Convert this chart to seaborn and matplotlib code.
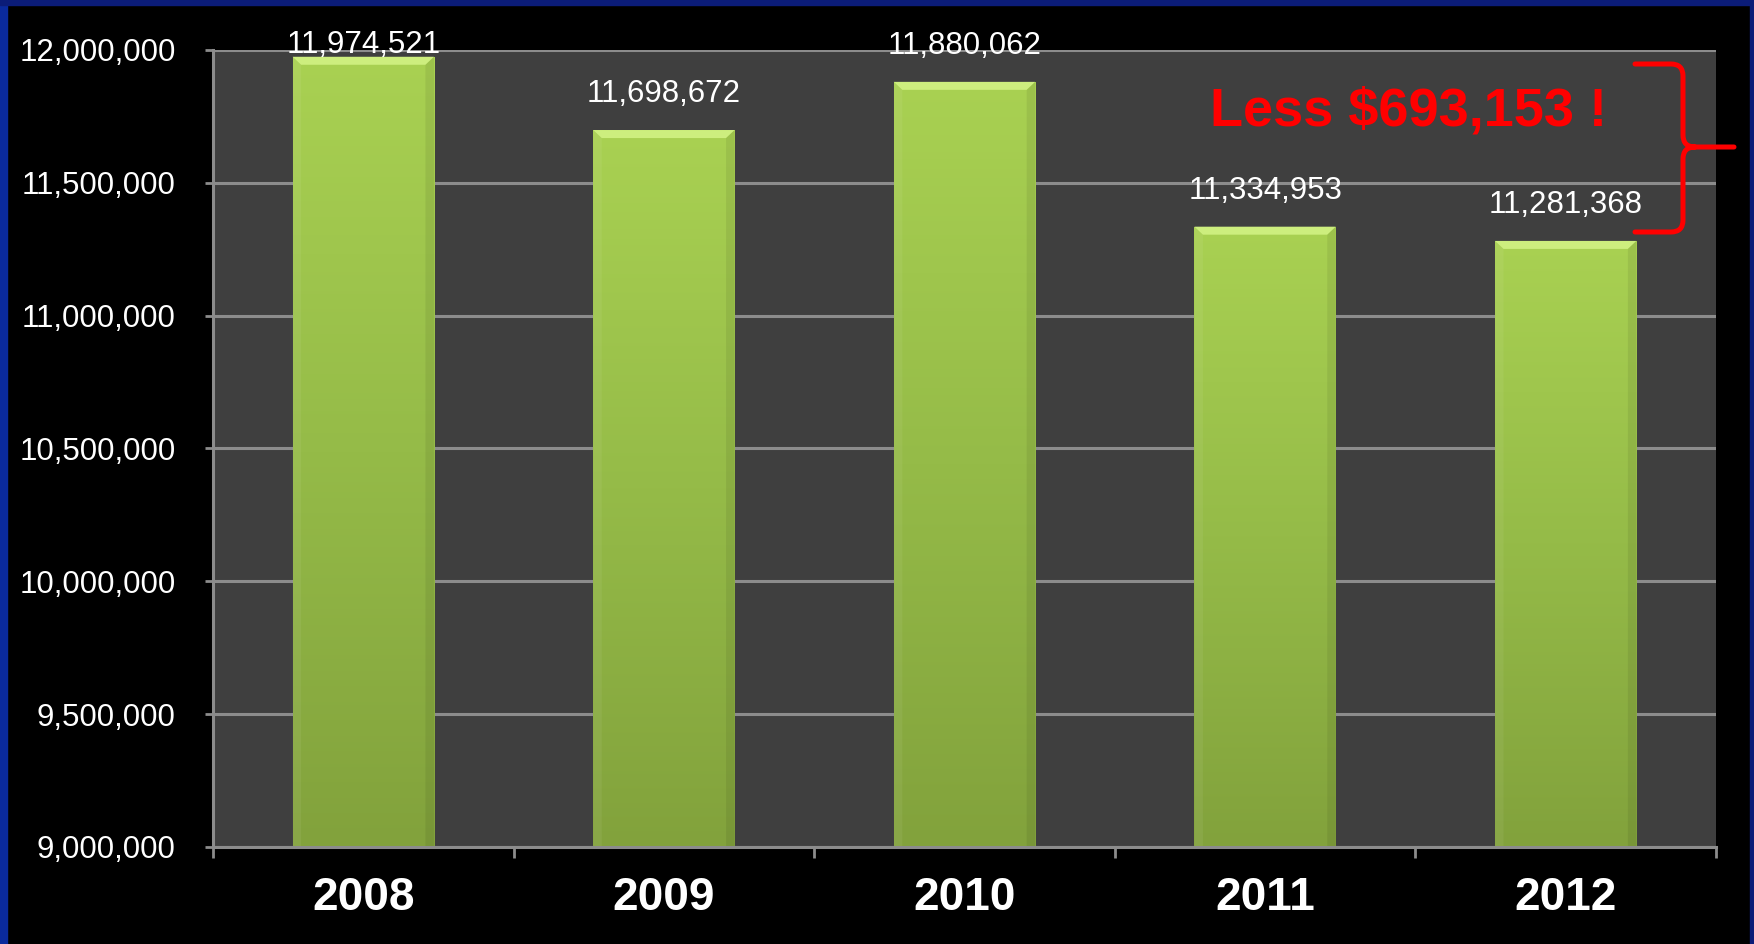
import numpy as np
import pandas as pd
import matplotlib
matplotlib.use("Agg")
import matplotlib.pyplot as plt
import seaborn as sns
from matplotlib.patches import Rectangle, Polygon, PathPatch
from matplotlib.path import Path
from matplotlib.colors import LinearSegmentedColormap

# ---- data ----
years = ["2008", "2009", "2010", "2011", "2012"]
revenue = [11974521, 11698672, 11880062, 11334953, 11281368]
y_ticks = [9000000, 9500000, 10000000, 10500000, 11000000, 11500000, 12000000]
note_text = "Less $693,153 !"

W, H = 1754, 944
sns.set_theme(style="dark")
plt.rcParams['font.family'] = ['Liberation Sans', 'DejaVu Sans']
NARROW = ['Liberation Sans', 'DejaVu Sans']
GRID = '#8c8c8c'
LBL = 22.5


def fx(px):
    return px / W


def fy(py):
    return 1 - py / H


fig = plt.figure(figsize=(W / 100, H / 100), dpi=100, facecolor='black')
# blue slide border
fig.add_artist(Rectangle((0, 0), fx(7), 1, transform=fig.transFigure, color='#0a2a9c', zorder=0))
fig.add_artist(Rectangle((0, fy(5)), 1, 5 / H, transform=fig.transFigure, color='#0b1c78', zorder=0))
fig.add_artist(Rectangle((fx(1750), 0), 4 / W, 1, transform=fig.transFigure, color='#0b1c78', zorder=0))

ax = fig.add_axes([fx(213), fy(847), fx(1716) - fx(213), fy(50) - fy(847)])
ax.set_facecolor('#3f3f3f')

df = pd.DataFrame({'year': years, 'revenue': revenue})
sns.barplot(data=df, x='year', y='revenue', ax=ax, color='#9cc44c', width=0.47,
            saturation=1, linewidth=0, zorder=2)

ymin, ymax = y_ticks[0], y_ticks[-1]
ax.set_ylim(ymin, ymax)

# gradient + bevel on each bar
cmap = LinearSegmentedColormap.from_list('g', ['#82a23c', '#95bb48', '#a9d152'])
grad = np.linspace(0, 1, 256).reshape(-1, 1)
bev_h = (ymax - ymin) * 8 / 797
for p in list(ax.patches):
    x0, w, top = p.get_x(), p.get_width(), p.get_height()
    s = w * 0.06
    im = ax.imshow(grad, extent=[x0, x0 + w, ymin, top], origin='lower', cmap=cmap,
                   aspect='auto', zorder=2.1)
    im.set_clip_path(p)
    ax.add_patch(Polygon([(x0, top), (x0 + w, top), (x0 + w - s, top - bev_h), (x0 + s, top - bev_h)],
                         closed=True, facecolor='#cdee7e', edgecolor='none', zorder=2.3))
    ax.add_patch(Polygon([(x0, top), (x0 + s, top - bev_h), (x0 + s, ymin), (x0, ymin)],
                         closed=True, facecolor='white', alpha=0.06, edgecolor='none', zorder=2.3))
    ax.add_patch(Polygon([(x0 + w, top), (x0 + w - s, top - bev_h), (x0 + w - s, ymin), (x0 + w, ymin)],
                         closed=True, facecolor='black', alpha=0.07, edgecolor='none', zorder=2.3))

ax.set_xlim(-0.5, len(years) - 0.5)
ax.set_ylim(ymin, ymax)

# value labels
for i, v in enumerate(revenue):
    ax.text(i, min(v + 106000, ymax - 11000), f"{v:,}", ha='center', va='baseline',
            color='white', fontsize=LBL, family=NARROW, zorder=5, clip_on=False)

# axes styling
ax.set_yticks(y_ticks, labels=[f"{v:,}" for v in y_ticks], fontsize=LBL, color='white', family=NARROW)
ax.set_xticks(np.arange(len(years) + 1) - 0.5, labels=[''] * (len(years) + 1))
ax.set_xticks(np.arange(len(years)), labels=years, minor=True, fontsize=33, fontweight='bold', color='white')
ax.tick_params(axis='y', which='major', length=5.8, width=2, color=GRID, pad=21, left=True)
ax.tick_params(axis='x', which='major', length=8, width=2, color=GRID, bottom=True, direction='out')
ax.tick_params(axis='x', which='minor', length=0, pad=21)
ax.set_xlabel('')
ax.set_ylabel('')
ax.set_axisbelow(True)
ax.yaxis.grid(True, color=GRID, linewidth=2.2)
ax.xaxis.grid(False)
for side in ['top', 'right']:
    ax.spines[side].set_visible(False)
for side in ['left', 'bottom']:
    ax.spines[side].set_visible(True)
    ax.spines[side].set_color(GRID)
    ax.spines[side].set_linewidth(2.2)

# annotation: text + brace
fig.text(fx(1408), fy(111), note_text, ha='center', va='center', color='#ff0000',
         fontsize=39, fontweight='bold', family=['Liberation Sans', 'DejaVu Sans'])

x0, xv, xt, yt, ym, yb, r = 1635, 1683, 1734, 64, 147, 232, 12
pts = [(x0, yt), (xv - r, yt), (xv, yt), (xv, yt + r), (xv, ym - r), (xv, ym), (xv + r, ym), (xt, ym),
       (xv + r, ym), (xv, ym), (xv, ym + r), (xv, yb - r), (xv, yb), (xv - r, yb), (x0, yb)]
codes = [Path.MOVETO, Path.LINETO, Path.CURVE3, Path.CURVE3, Path.LINETO, Path.CURVE3, Path.CURVE3, Path.LINETO,
         Path.MOVETO, Path.CURVE3, Path.CURVE3, Path.LINETO, Path.CURVE3, Path.CURVE3, Path.LINETO]
brace = Path([(fx(a), fy(b)) for a, b in pts], codes)
fig.add_artist(PathPatch(brace, transform=fig.transFigure, fill=False, edgecolor='#ff0000',
                         linewidth=3.6, capstyle='round', joinstyle='round', zorder=10))

fig.savefig('out.png', dpi=100, facecolor='black')
